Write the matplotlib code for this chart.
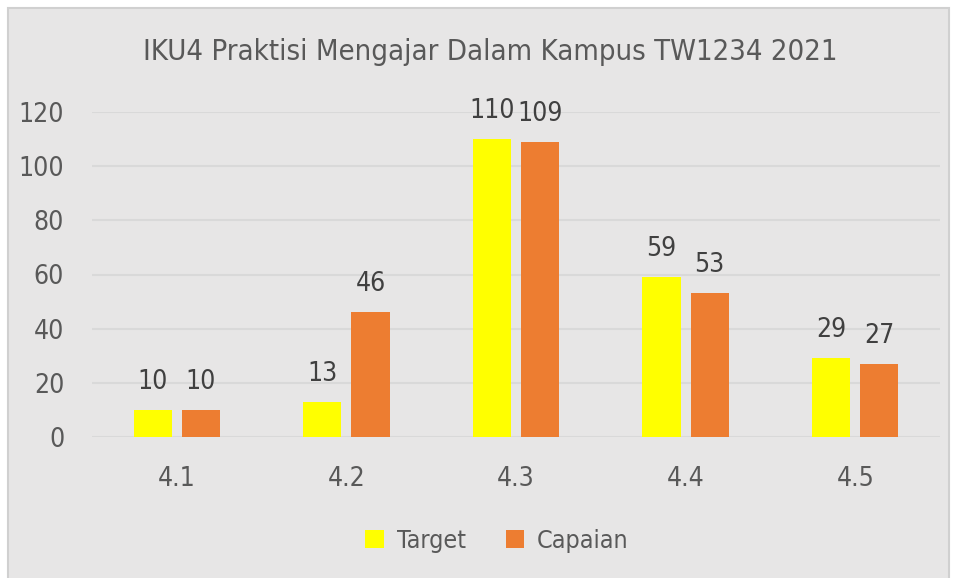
import matplotlib.pyplot as plt
import numpy as np
from matplotlib.patches import Rectangle

# Datos del grafico
categories = ['4.1', '4.2', '4.3', '4.4', '4.5']
target = [10, 13, 110, 59, 29]
capaian = [10, 46, 109, 53, 27]
yticks = [0, 20, 40, 60, 80, 100, 120]

text_color = '#595959'
plt.rcParams['font.family'] = ['DejaVu Sans']
plt.rcParams['font.stretch'] = 'condensed'

W, H = 957, 578
fig = plt.figure(figsize=(W / 100, H / 100), dpi=100)
fig.patch.set_facecolor('white')

# Panel gris con borde
panel = Rectangle((8 / W, -0.01), (949 - 8) / W, (H - 8) / H + 0.01,
                  transform=fig.transFigure, facecolor='#E7E6E6',
                  edgecolor='#D0D0D0', linewidth=1.5, zorder=-10)
fig.patches.append(panel)

ax = fig.add_axes([92 / W, (H - 437) / H, (940 - 92) / W, (437 - 112) / H])
ax.set_facecolor('none')
ax.set_zorder(5)

x = np.arange(len(categories))
w = 0.225
off = 0.142
b1 = ax.bar(x - off, target, w, color='#FFFF00', label='Target', zorder=3)
b2 = ax.bar(x + off, capaian, w, color='#ED7D31', label='Capaian', zorder=3)

for bars, vals in ((b1, target), (b2, capaian)):
    for b, v in zip(bars, vals):
        ax.annotate(str(v), (b.get_x() + b.get_width() / 2, v),
                    xytext=(0, 11), textcoords='offset points',
                    ha='center', va='bottom', fontsize=19, color='#404040')

ax.set_xlim(-0.5, len(categories) - 0.5)
ax.set_ylim(0, 120)
ax.set_yticks(yticks)
ax.set_xticks(x)
ax.set_xticklabels(categories)
ax.tick_params(axis='both', length=0, labelsize=19, labelcolor=text_color)
ax.tick_params(axis='x', pad=21)
ax.tick_params(axis='y', pad=20)
ax.grid(axis='y', color='#D9D9D9', linewidth=1.5, zorder=0)
for s in ax.spines.values():
    s.set_visible(False)

fig.text(490 / W, 1 - 52 / H, 'IKU4 Praktisi Mengajar Dalam Kampus TW1234 2021',
         ha='center', va='center', fontsize=21, color=text_color)

fig.legend(loc='center', bbox_to_anchor=(497 / W, 1 - 541 / H), ncol=2,
           frameon=False, fontsize=18, labelcolor=text_color,
           handlelength=0.75, handleheight=0.75, handletextpad=0.5,
           columnspacing=1.6)

fig.savefig('out.png', dpi=100, facecolor=fig.get_facecolor())
